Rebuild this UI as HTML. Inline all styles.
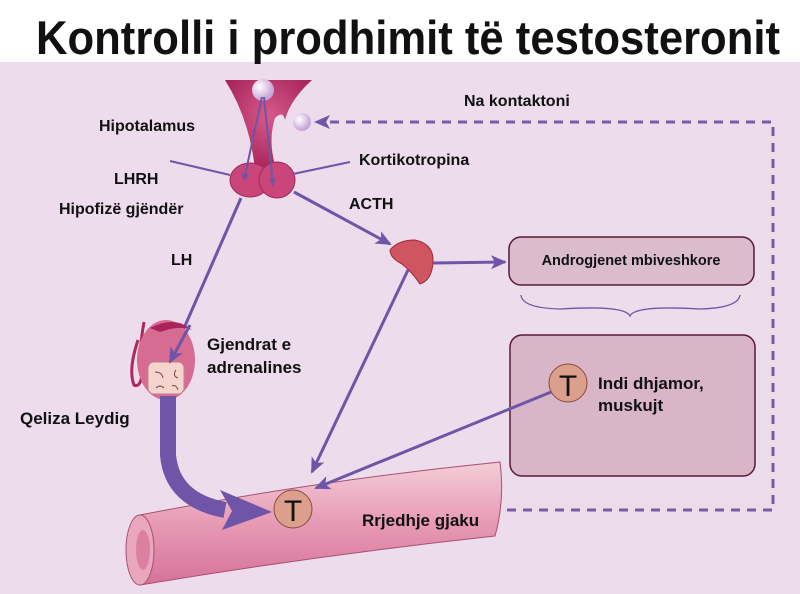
<!DOCTYPE html>
<html><head><meta charset="utf-8"><style>
html,body{margin:0;padding:0;background:#fff}
svg{display:block}
text{font-family:"Liberation Sans",Arial,sans-serif;font-weight:bold;fill:#111}
</style></head><body>
<svg width="800" height="594" viewBox="0 0 800 594" xmlns="http://www.w3.org/2000/svg">
<defs>
<marker id="ah" markerWidth="8" markerHeight="8" refX="7" refY="4" orient="auto" markerUnits="userSpaceOnUse">
<path d="M0,0 L8,4 L0,8 L2,4 Z" fill="#6f55a8"/></marker>
<marker id="ah2" markerWidth="16" markerHeight="14" refX="14" refY="7" orient="auto" markerUnits="userSpaceOnUse">
<path d="M0,0 L16,7 L0,14 L4,7 Z" fill="#6f55a8"/></marker>
<linearGradient id="vg" x1="0" y1="0" x2="0" y2="1">
<stop offset="0" stop-color="#f3cdd8"/><stop offset="0.5" stop-color="#e79ab4"/><stop offset="1" stop-color="#d6729a"/></linearGradient>
<radialGradient id="pg" cx="0.5" cy="0.4" r="0.6"><stop offset="0" stop-color="#d55a8a"/><stop offset="1" stop-color="#a8245a"/></radialGradient>
<radialGradient id="bg" cx="0.35" cy="0.35" r="0.6"><stop offset="0" stop-color="#fff"/><stop offset="1" stop-color="#c9a6d8"/></radialGradient>
</defs>
<rect x="0" y="0" width="800" height="62" fill="#fff"/>
<rect x="0" y="62" width="800" height="532" fill="#ecdcec"/>
<text x="36" y="54" font-size="47" textLength="744" lengthAdjust="spacingAndGlyphs">Kontrolli i prodhimit të testosteronit</text>

<!-- dashed feedback -->
<path d="M315,510 L773,510 L773,122 L325,122" fill="none" stroke="#7a5aa8" stroke-width="3" stroke-dasharray="9,7"/>
<path d="M314,122 L330,115 L326,122 L330,129 Z" fill="#6f55a8"/>

<!-- vessel -->
<path d="M140,515 Q320,480 500,462 Q505,500 495,536 Q320,555 140,585 Z" fill="url(#vg)" stroke="#a85070" stroke-width="1"/>
<ellipse cx="140" cy="550" rx="14" ry="35" fill="#e9a7bd" stroke="#a85070"/>
<ellipse cx="143" cy="550" rx="7" ry="20" fill="#d4668f" opacity="0.6"/>

<!-- hypothalamus -->
<path d="M225,80 L312,80 Q290,100 285,120 Q283,110 275,118 Q268,140 275,165 L255,170 Q250,120 225,80 Z" fill="url(#pg)"/>
<ellipse cx="250" cy="180" rx="20" ry="17" fill="#c9457a" stroke="#a02858"/>
<ellipse cx="277" cy="180" rx="18" ry="18" fill="#c9457a" stroke="#a02858"/>
<circle cx="263" cy="90" r="11" fill="url(#bg)"/>
<circle cx="302" cy="122" r="9" fill="url(#bg)"/>
<line x1="262" y1="97" x2="244" y2="180" stroke="#6f55a8" stroke-width="2" marker-end="url(#ah)"/>
<line x1="264" y1="97" x2="273" y2="185" stroke="#6f55a8" stroke-width="2" marker-end="url(#ah)"/>
<line x1="170" y1="161" x2="230" y2="175" stroke="#6f55a8" stroke-width="2"/>
<line x1="350" y1="162" x2="293" y2="174" stroke="#6f55a8" stroke-width="2"/>

<!-- adrenal -->
<path d="M390,250 Q398,240 415,240 Q434,244 433,262 Q432,280 420,284 Q412,272 402,264 Q390,258 390,250 Z" fill="#cf5560" stroke="#a02838"/>

<!-- boxes -->
<rect x="509" y="237" width="245" height="48" rx="12" fill="#dbbccd" stroke="#5a1a35" stroke-width="1.5"/>
<text x="631" y="265" font-size="14.5" text-anchor="middle">Androgjenet mbiveshkore</text>
<path d="M521,295 Q522,308 560,309 Q625,305 630,316 Q635,305 700,309 Q738,308 740,295" fill="none" stroke="#6f55a8" stroke-width="1.3"/>
<rect x="510" y="335" width="245" height="141" rx="12" fill="#d8b6c8" stroke="#5a1a35" stroke-width="1.5"/>

<!-- arrows -->
<line x1="294" y1="192" x2="390" y2="244" stroke="#6f55a8" stroke-width="3" marker-end="url(#ah2)"/>
<line x1="433" y1="263" x2="505" y2="262" stroke="#6f55a8" stroke-width="3" marker-end="url(#ah2)"/>
<line x1="241" y1="198" x2="170" y2="360" stroke="#6f55a8" stroke-width="3" marker-end="url(#ah2)"/>
<line x1="408" y1="270" x2="312" y2="472" stroke="#6f55a8" stroke-width="3" marker-end="url(#ah2)"/>
<line x1="556" y1="390" x2="316" y2="488" stroke="#6f55a8" stroke-width="3" marker-end="url(#ah2)"/>

<!-- testis -->
<path d="M138,340 Q128,370 134,385 Q140,388 142,375 Q138,355 144,322" fill="none" stroke="#b02860" stroke-width="3"/>
<ellipse cx="166" cy="360" rx="29" ry="40" fill="#d86b92"/>
<path d="M150,328 Q175,315 192,330 Q180,325 160,332 Z" fill="#a8245a"/>
<rect x="148" y="362" width="36" height="32" rx="6" fill="#f4d4cc" stroke="#c08090"/>
<path d="M155,372 Q162,372 163,378 M176,370 Q172,376 178,378 M156,388 Q160,384 164,388 M172,386 Q176,384 178,390" fill="none" stroke="#7a4050" stroke-width="1"/>
<line x1="190" y1="325" x2="170" y2="362" stroke="#6f55a8" stroke-width="3" marker-end="url(#ah2)"/>

<!-- thick arrow -->
<path d="M168,396 L168,455 Q172,500 225,510" fill="none" stroke="#6f55a8" stroke-width="16"/>
<path d="M220,490 L272,512 L222,530 L232,511 Z" fill="#6f55a8"/>

<!-- T circles -->
<circle cx="293" cy="509" r="19" fill="#dc9f8e" stroke="#8a4a40"/>
<text x="293" y="521" font-size="30" text-anchor="middle" style="font-weight:normal">T</text>
<circle cx="568" cy="383" r="19" fill="#dc9f8e" stroke="#8a4a40"/>
<text x="568" y="396" font-size="30" text-anchor="middle" style="font-weight:normal">T</text>
<text x="598" y="389" font-size="17">Indi dhjamor,</text>
<text x="598" y="411" font-size="17">muskujt</text>

<!-- labels -->
<text x="99" y="131" font-size="16">Hipotalamus</text>
<text x="464" y="106" font-size="16">Na kontaktoni</text>
<text x="359" y="165" font-size="16">Kortikotropina</text>
<text x="114" y="184" font-size="16">LHRH</text>
<text x="59" y="214" font-size="16">Hipofizë gjëndër</text>
<text x="349" y="209" font-size="16">ACTH</text>
<text x="171" y="265" font-size="16">LH</text>
<text x="207" y="350" font-size="17">Gjendrat e</text>
<text x="207" y="373" font-size="17">adrenalines</text>
<text x="20" y="424" font-size="17">Qeliza Leydig</text>
<text x="362" y="526" font-size="17">Rrjedhje gjaku</text>
</svg>
</body></html>
